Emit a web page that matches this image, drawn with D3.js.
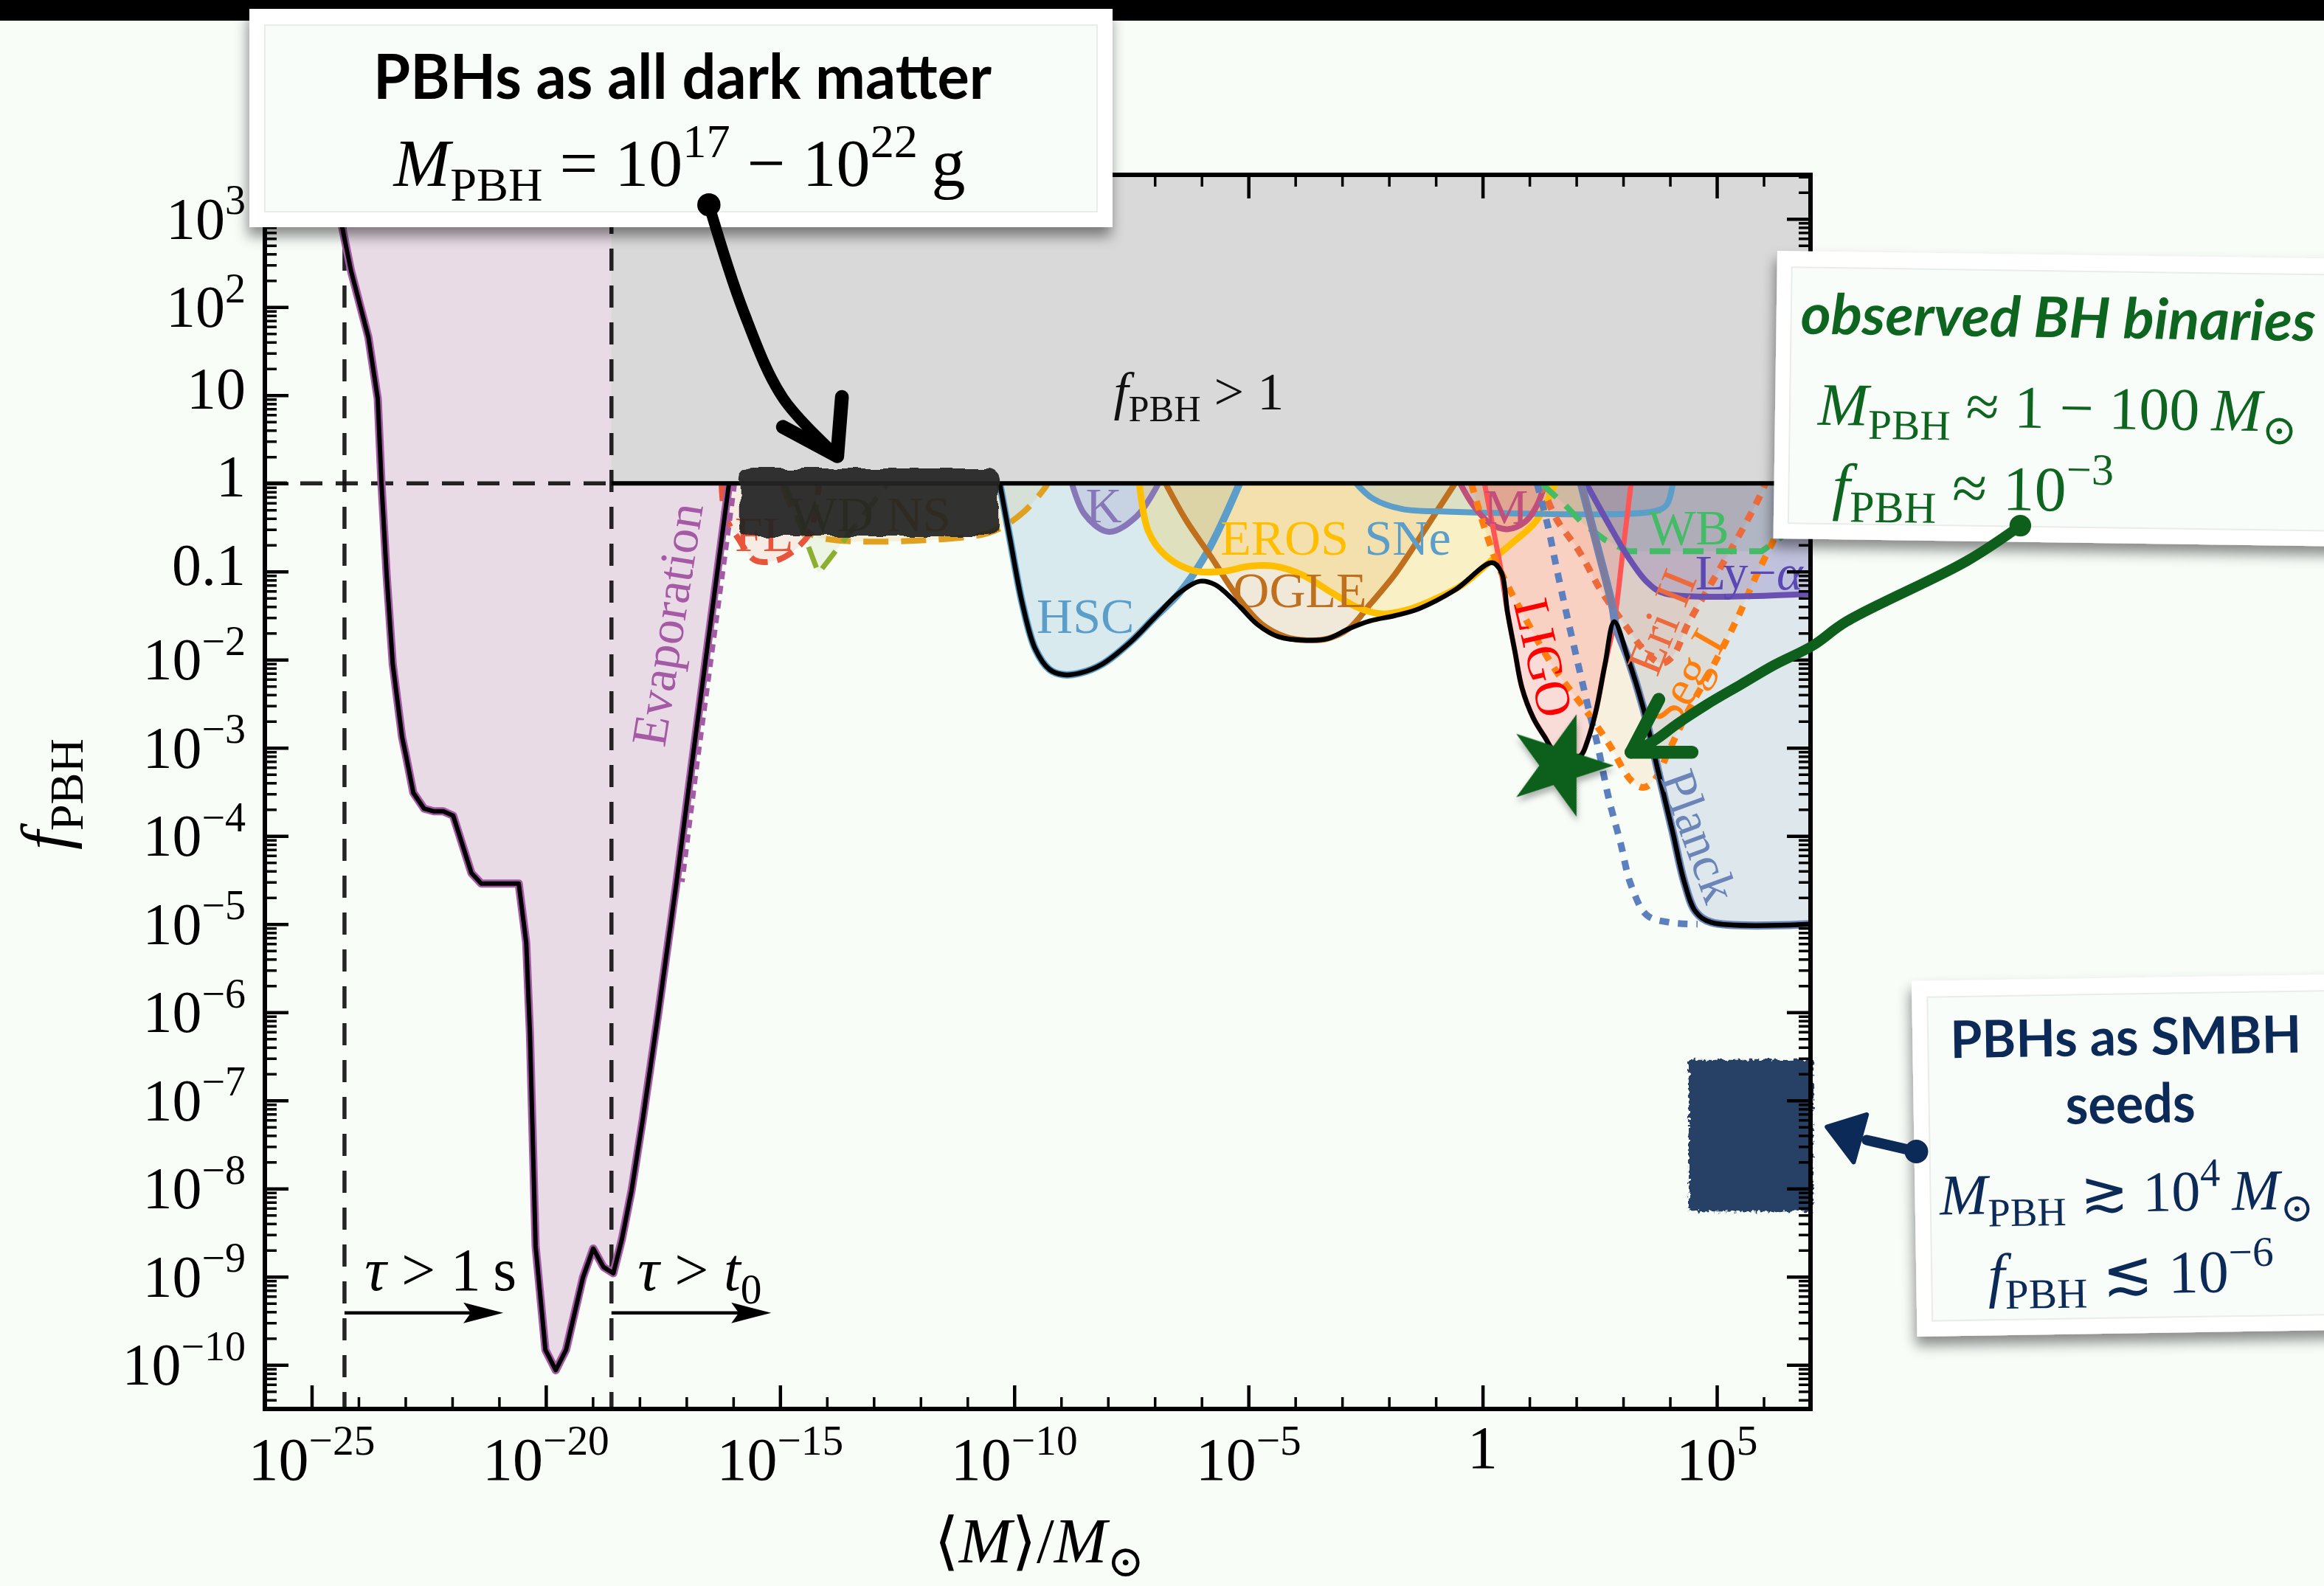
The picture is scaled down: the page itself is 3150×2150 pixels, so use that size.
<!DOCTYPE html>
<html>
<head>
<meta charset="utf-8">
<script src="https://cdn.jsdelivr.net/npm/d3@7"></script>
<style>
html,body{margin:0;padding:0;background:#f8fdf8;}
svg{display:block;}
</style>
</head>
<body>
<svg id="chart" width="3150" height="2150"></svg>
<script>
// ---------------- tick positions (log10 exponents) ----------------
const massMajorExp = [-25, -20, -15, -10, -5, 0, 5];
const massDecadeExp = d3.range(-25, 7);
const fracDecadeExp = d3.range(-10, 4);

// ---------------- constraint curves: [log10(M/Msun), log10 fPBH] ----------------
const evaporation = [[-24.45,3.5],[-24.35,2.91],[-24.16,2.41],[-23.79,1.66],[-23.59,0.96],[-23.51,0.0],[-23.40,-1.04],[-23.27,-2.05],[-23.07,-2.88],[-22.99,-3.08],[-22.83,-3.51],[-22.60,-3.69],[-22.39,-3.72],[-22.19,-3.72],[-21.98,-3.77],[-21.59,-4.42],[-21.38,-4.54],[-20.58,-4.54],[-20.42,-5.21],[-20.34,-6.25],[-20.22,-8.65],[-20.01,-9.83],[-19.79,-10.06],[-19.57,-9.83],[-19.21,-9.01],[-18.99,-8.68],[-18.77,-8.89],[-18.56,-8.96],[-18.38,-8.58],[-18.17,-8.02],[-17.93,-7.21],[-17.60,-6.01],[-17.21,-4.52],[-16.88,-3.17],[-16.09,0.0]];
const evaporationDotted = [[-15.98,0.0],[-16.78,-3.17],[-17.10,-4.52]];
const femtolensing = [[-16.25,0],[-16.17,-0.37],[-15.90,-0.62],[-15.54,-0.87],[-15.13,-0.88],[-14.77,-0.79],[-14.41,-0.60],[-14.31,-0.48],[-14.17,0]];
const whiteDwarfs = [[-14.90,0],[-14.18,-1.02],[-12.70,0]];
const neutronStars = [[-14.95,0],[-14.62,-0.42],[-14.25,-0.60],[-10.88,-0.60],[-10.34,-0.52],[-9.79,-0.32],[-9.33,-0.04],[-9.29,0]];
const hsc = [[-10.31,0],[-10.09,-0.63],[-9.82,-1.38],[-9.55,-1.88],[-9.25,-2.11],[-8.96,-2.17],[-8.58,-2.15],[-8.12,-2.05],[-7.52,-1.80],[-7.00,-1.52],[-6.47,-1.24],[-5.87,-0.77],[-5.19,0]];
const kepler = [[-8.77,0],[-8.50,-0.35],[-7.98,-0.55],[-7.38,-0.37],[-6.92,0]];
const eros = [[-7.33,0],[-7.14,-0.54],[-6.77,-0.82],[-6.17,-0.99],[-5.57,-1.00],[-4.97,-0.94],[-4.43,-0.94],[-3.84,-1.04],[-3.22,-1.24],[-2.70,-1.40],[-2.17,-1.48],[-1.65,-1.44],[-1.05,-1.32],[-0.43,-1.15],[0.24,-0.85],[0.69,-0.65],[1.14,-0.43],[1.55,0]];
const ogle = [[-6.77,0],[-6.33,-0.42],[-5.79,-0.84],[-5.27,-1.26],[-4.73,-1.59],[-4.21,-1.74],[-3.76,-1.78],[-3.30,-1.76],[-2.86,-1.65],[-2.40,-1.37],[-1.87,-1.03],[-1.35,-0.62],[-0.97,-0.31],[-0.59,0]];
const supernovae = [[-2.70,0],[-2.35,-0.17],[-1.73,-0.29],[-0.78,-0.32],[3.63,-0.32],[3.92,-0.25],[4.06,0]];
const mLensing = [[-0.48,0],[-0.20,-0.25],[0.15,-0.45],[0.53,-0.52],[0.92,-0.43],[1.16,-0.25],[1.33,0]];
const ligo = [[0.04,0],[0.22,-0.50],[0.40,-1.01],[0.53,-1.46],[0.69,-1.91],[0.84,-2.32],[1.08,-2.66],[1.33,-2.88],[1.57,-3.07],[1.88,-3.10],[2.09,-3.09],[2.24,-2.92],[2.42,-2.58],[2.61,-2.06],[2.81,-1.57],[2.99,-0.79],[3.17,0]];
const segueI = [[-0.24,0],[0.28,-0.87],[0.92,-1.54],[1.57,-2.13],[2.21,-2.58],[2.70,-2.96],[3.17,-3.37],[3.43,-3.45],[3.66,-3.37],[3.98,-3.03],[4.39,-2.58],[4.78,-2.21],[5.43,-1.54],[5.84,-1.05],[6.25,-0.60],[6.56,-0.23],[6.76,0]];
const eridanusII = [[1.25,0],[1.57,-0.40],[2.06,-0.77],[2.53,-1.22],[3.02,-1.59],[3.51,-1.93],[3.82,-2.04],[4.06,-1.96],[4.39,-1.59],[5.04,-0.99],[5.60,-0.47],[5.96,-0.10],[6.04,0]];
const accretionForecast = [[1.16,0],[1.40,-0.50],[1.57,-0.94],[1.80,-1.50],[2.06,-2.10],[2.29,-2.62],[2.45,-2.96],[2.70,-3.59],[2.94,-4.07],[3.17,-4.56],[3.51,-4.90],[3.98,-4.98],[4.59,-5.0]];
const wideBinaries = [[1.25,0],[1.73,-0.23],[2.13,-0.45],[2.61,-0.64],[3.10,-0.77],[5.96,-0.77],[6.40,-0.60],[7,-0.29]];
const lymanAlpha = [[2.21,0],[2.70,-0.47],[3.10,-0.83],[3.51,-1.12],[3.90,-1.25],[7,-1.25]];
const planckUpper = [[2.10,0],[2.45,-0.72],[2.78,-1.42]];
const planck = [[2.10,0],[2.45,-0.72],[2.78,-1.42],[2.84,-1.62],[3.10,-1.98],[3.43,-2.55],[3.74,-3.25],[4.06,-3.96],[4.31,-4.53],[4.55,-4.86],[4.88,-4.98],[7,-5.0]];
const envelope = [[-10.31,0],[-10.09,-0.63],[-9.82,-1.38],[-9.55,-1.88],[-9.25,-2.11],[-8.96,-2.17],[-8.58,-2.15],[-8.12,-2.05],[-7.52,-1.80],[-7.00,-1.52],[-6.47,-1.24],[-6.03,-1.11],[-5.71,-1.15],[-5.27,-1.35],[-4.81,-1.60],[-4.36,-1.74],[-3.76,-1.78],[-3.30,-1.76],[-2.86,-1.65],[-2.40,-1.56],[-1.87,-1.50],[-1.35,-1.42],[-0.59,-1.21],[0.20,-0.90],[0.40,-1.01],[0.53,-1.46],[0.69,-1.91],[0.84,-2.32],[1.08,-2.66],[1.33,-2.88],[1.57,-3.07],[1.88,-3.10],[2.09,-3.09],[2.24,-2.92],[2.42,-2.58],[2.61,-2.06],[2.81,-1.57],[3.10,-1.98],[3.43,-2.55],[3.74,-3.25],[4.06,-3.96],[4.31,-4.53],[4.55,-4.86],[4.88,-4.98],[7.0,-5.0]];

// ---------------- highlighted windows and reference values ----------------
const lifetimeExp = [-24.3, -18.6];          // tau = 1 s, tau = t0
const allDarkMatterWindow = {m: [-15.86, -10.34], f: [-0.60, 0.17]};
const smbhSeedWindow = {m: [4.40, 7.05], f: [-8.26, -6.54]};
const observedBinaries = [1.65, -3.20];

// ---------------- geometry ----------------
const svg = d3.select("#chart");
const W = 3150, H = 2150;
const P = {l: 359, r: 2454, t: 237, b: 1910};
const x = d3.scaleLog().domain([1e-26, 1e7]).range([P.l, P.r]);
const y = d3.scaleLog().domain([10 ** -10.5, 10 ** 3.5]).range([P.b, P.t]);
const X = e => x(10 ** e), Y = e => y(10 ** e);

const SERIF = "'Liberation Serif','Times New Roman','DejaVu Serif',serif";
const SANS = "Lato,'Noto Sans','DejaVu Sans',sans-serif";

const defs = svg.append("defs");
defs.append("clipPath").attr("id", "plotClip").append("rect")
  .attr("x", P.l).attr("y", P.t).attr("width", P.r - P.l).attr("height", P.b - P.t);

const noteShadow = defs.append("filter").attr("id", "noteShadow")
  .attr("x", "-10%").attr("y", "-10%").attr("width", "125%").attr("height", "140%");
noteShadow.append("feDropShadow").attr("dx", -2).attr("dy", 12).attr("stdDeviation", 9)
  .attr("flood-color", "#000").attr("flood-opacity", 0.45);

const softShadow = defs.append("filter").attr("id", "softShadow")
  .attr("x", "-30%").attr("y", "-30%").attr("width", "160%").attr("height", "160%");
softShadow.append("feDropShadow").attr("dx", 3).attr("dy", 6).attr("stdDeviation", 4)
  .attr("flood-color", "#000").attr("flood-opacity", 0.3);

function roughFilter(id, freq, scale) {
  const f = defs.append("filter").attr("id", id)
    .attr("x", "-10%").attr("y", "-20%").attr("width", "120%").attr("height", "140%");
  f.append("feTurbulence").attr("type", "fractalNoise").attr("baseFrequency", freq)
    .attr("numOctaves", 2).attr("seed", 4).attr("result", "noise");
  f.append("feDisplacementMap").attr("in", "SourceGraphic").attr("in2", "noise")
    .attr("scale", scale).attr("xChannelSelector", "R").attr("yChannelSelector", "G");
}
roughFilter("roughBox", 0.035, 10);
roughFilter("roughPaint", 0.18, 10);

// ---------------- helpers ----------------
const smooth = d3.line().x(d => X(d[0])).y(d => Y(d[1])).curve(d3.curveCatmullRom.alpha(0.5));
const straight = d3.line().x(d => X(d[0])).y(d => Y(d[1]));

function mathText(sel, parts, F) {
  let shift = 0;
  parts.forEach(p => {
    const target = p.sub ? 0.22 * F : p.sup ? -0.42 * F : 0;
    const t = sel.append("tspan").text(p.t)
      .attr("dy", target - shift)
      .attr("font-size", (p.sub || p.sup) ? 0.7 * F : F);
    if (p.it) t.attr("font-style", "italic");
    shift = target;
  });
  return sel;
}
function expParts(e, isY) {
  if (e === 0) return [{t: "1"}];
  if (isY && e === 1) return [{t: "10"}];
  if (isY && e === -1) return [{t: "0.1"}];
  return [{t: "10"}, {t: (e < 0 ? "\u2212" : "") + Math.abs(e), sup: true}];
}

// ---------------- page background ----------------
svg.append("rect").attr("width", W).attr("height", H).attr("fill", "#f8fdf8");
svg.append("rect").attr("width", W).attr("height", 28).attr("fill", "#000");

const plot = svg.append("g").attr("clip-path", "url(#plotClip)");

// evaporation region (filled up to the top of the frame)
plot.append("path")
  .attr("d", straight(evaporation) + `L${X(-16.09)},${Y(3.5)}L${X(evaporation[0][0])},${Y(3.5)}Z`)
  .attr("fill", "#e8dbe6");

// f_PBH > 1 region
plot.append("rect")
  .attr("x", X(lifetimeExp[1])).attr("y", Y(3.5))
  .attr("width", X(7) - X(lifetimeExp[1])).attr("height", Y(0) - Y(3.5))
  .attr("fill", "#d9d9d9");

// individual constraints
const curves = [
  {pts: neutronStars, color: "#e0a020", dash: "34 17", w: 8, fill: 0.14},
  {pts: whiteDwarfs, color: "#8bb030", dash: "30 16", w: 7, fill: 0.10, linear: true},
  {pts: femtolensing, color: "#e8553a", dash: "24 13", w: 8, fill: 0.10},
  {pts: hsc, color: "#5b9ec9", w: 10, fill: 0.20},
  {pts: kepler, color: "#8877b8", w: 8, fill: 0.20},
  {pts: ogle, color: "#c0701c", w: 8, fill: 0.14},
  {pts: eros, color: "#ffbf00", w: 9, fill: 0.20},
  {pts: supernovae, color: "#5b9ec9", w: 8, fill: 0.18},
  {pts: mLensing, color: "#c0507a", w: 8, fill: 0.22},
  {pts: ligo, color: "#ff5555", w: 7, fill: 0.20},
  {pts: segueI, color: "#ff7f0e", dash: "13 12", w: 9, fill: 0.10},
  {pts: eridanusII, color: "#ec6a3c", dash: "13 12", w: 9, fill: 0.12},
  {pts: wideBinaries, color: "#44bb66", dash: "28 17", w: 8, fill: 0.14, close: [[7, 0]], linear: true},
  {pts: lymanAlpha, color: "#6a50b0", w: 8, fill: 0.26, close: [[7, 0]]},
  {pts: planck, color: "#6b85b8", w: 11, fill: 0.18, close: [[7, 0]]},
  {pts: accretionForecast, color: "#5b7fbf", dash: "13 12", w: 9, fill: 0}
];
const gen = c => (c.linear ? straight : smooth)(c.pts);

curves.filter(c => c.fill > 0).forEach(c => {
  const tail = (c.close || []).map(p => `L${X(p[0])},${Y(p[1])}`).join("");
  plot.append("path").attr("d", gen(c) + tail + "Z")
    .attr("fill", c.color).attr("fill-opacity", c.fill);
});

// lifetime reference lines and the f = 1 dashed segment
lifetimeExp.forEach(e => {
  plot.append("line").attr("x1", X(e)).attr("x2", X(e)).attr("y1", P.t).attr("y2", P.b)
    .attr("stroke", "#111").attr("stroke-opacity", 0.92).attr("stroke-width", 5.5)
    .attr("stroke-dasharray", "30 20");
});
plot.append("line").attr("x1", P.l).attr("x2", X(lifetimeExp[1])).attr("y1", Y(0)).attr("y2", Y(0))
  .attr("stroke", "#111").attr("stroke-opacity", 0.92).attr("stroke-width", 5.5)
  .attr("stroke-dasharray", "30 18");

// constraint lines
curves.forEach(c => {
  plot.append("path").attr("d", gen(c)).attr("fill", "none")
    .attr("stroke", c.color).attr("stroke-width", c.w)
    .attr("stroke-dasharray", c.dash || null)
    .attr("stroke-linejoin", "round");
});
plot.append("path").attr("d", smooth(planckUpper)).attr("fill", "none")
  .attr("stroke", "#7f7b9a").attr("stroke-width", 7);

// evaporation boundary
plot.append("path").attr("d", straight(evaporationDotted)).attr("fill", "none")
  .attr("stroke", "#a55aa5").attr("stroke-width", 8).attr("stroke-dasharray", "11 9");
plot.append("path").attr("d", straight(evaporation)).attr("fill", "none")
  .attr("stroke", "#a55aa5").attr("stroke-width", 11).attr("stroke-linejoin", "round");
plot.append("path").attr("d", straight(evaporation)).attr("fill", "none")
  .attr("stroke", "#000").attr("stroke-width", 6).attr("stroke-linejoin", "round");

// combined bound
plot.append("path").attr("d", smooth(envelope)).attr("fill", "none")
  .attr("stroke", "#000").attr("stroke-width", 6.5).attr("stroke-linejoin", "round");
plot.append("line").attr("x1", X(lifetimeExp[1])).attr("x2", P.r).attr("y1", Y(0)).attr("y2", Y(0))
  .attr("stroke", "#000").attr("stroke-width", 6);

// region labels
const regionLabels = [
  {parts: [{t: "HSC"}], at: [-8.48, -1.70], color: "#5b9ec9"},
  {parts: [{t: "K"}], at: [-8.09, -0.44], color: "#8877b8"},
  {parts: [{t: "EROS"}], at: [-4.23, -0.81], color: "#ffbf00"},
  {parts: [{t: "SNe"}], at: [-1.60, -0.81], color: "#5b9ec9"},
  {parts: [{t: "OGLE"}], at: [-3.90, -1.40], color: "#c0701c"},
  {parts: [{t: "M"}], at: [0.50, -0.46], color: "#c0507a"},
  {parts: [{t: "WB"}], at: [4.40, -0.69], color: "#44bb66"},
  {parts: [{t: "Ly\u2212"}, {t: "\u03b1", it: true}], at: [4.54, -1.20], color: "#5a48b4", anchor: "start"},
  {parts: [{t: "FL"}], at: [-15.34, -0.77], color: "#e8553a"},
  {parts: [{t: "WD"}], at: [-13.90, -0.54], color: "#7a9a28"},
  {parts: [{t: "NS"}], at: [-12.04, -0.54], color: "#d08a10"},
  {parts: [{t: "LIGO"}], at: [1.30, -1.98], color: "#ff0000", rot: 77},
  {parts: [{t: "Eri II"}], at: [3.82, -1.57], color: "#ec6a3c", rot: -68},
  {parts: [{t: "Seg I"}], at: [4.34, -2.22], color: "#ff7f0e", rot: -60},
  {parts: [{t: "Planck"}], at: [4.62, -4.0], color: "#6b85b8", rot: 70},
  {parts: [{t: "Evaporation"}], at: [-17.41, -1.60], color: "#a55aa5", rot: -81}
];
regionLabels.forEach(L => {
  const t = plot.append("text")
    .attr("font-family", SERIF).attr("fill", L.color)
    .attr("text-anchor", L.anchor || "middle");
  if (L.rot !== undefined) {
    t.attr("transform", `translate(${X(L.at[0])},${Y(L.at[1])}) rotate(${L.rot})`)
      .attr("dominant-baseline", "central");
  } else {
    t.attr("x", X(L.at[0])).attr("y", Y(L.at[1]));
  }
  mathText(t, L.parts, 68);
});

// f_PBH > 1 label
mathText(plot.append("text").attr("font-family", SERIF).attr("text-anchor", "middle")
  .attr("x", X(-6.06)).attr("y", Y(0.84)).attr("fill", "#111"),
  [{t: "f", it: true}, {t: "PBH", sub: true}, {t: " > 1"}], 72);

// lifetime annotations
const tauRows = [
  {parts: [{t: "\u03c4", it: true}, {t: " > 1\u2009s"}], text: -23.87, from: lifetimeExp[0], to: -20.91},
  {parts: [{t: "\u03c4", it: true}, {t: " > "}, {t: "t", it: true}, {t: "0", sub: true}], text: -18.04, from: lifetimeExp[1], to: -15.19}
];
tauRows.forEach(r => {
  mathText(plot.append("text").attr("font-family", SERIF).attr("x", X(r.text)).attr("y", Y(-9.15)).attr("fill", "#000"),
    r.parts, 82);
  const yy = Y(-9.41), x1 = X(r.from), x2 = X(r.to);
  plot.append("line").attr("x1", x1).attr("x2", x2 - 30).attr("y1", yy).attr("y2", yy)
    .attr("stroke", "#000").attr("stroke-width", 4.5);
  plot.append("path").attr("d", `M${x2},${yy}L${x2 - 54},${yy - 14}L${x2 - 44},${yy}L${x2 - 54},${yy + 14}Z`)
    .attr("fill", "#000");
});

// highlighted all-dark-matter window
plot.append("rect")
  .attr("x", X(allDarkMatterWindow.m[0])).attr("y", Y(allDarkMatterWindow.f[1]))
  .attr("width", X(allDarkMatterWindow.m[1]) - X(allDarkMatterWindow.m[0]))
  .attr("height", Y(allDarkMatterWindow.f[0]) - Y(allDarkMatterWindow.f[1]))
  .attr("rx", 16).attr("fill", "#242424").attr("fill-opacity", 0.93)
  .attr("filter", "url(#roughBox)");

// observed black-hole binaries
plot.append("path")
  .attr("d", d3.symbol(d3.symbolStar, 6000)())
  .attr("transform", `translate(${X(observedBinaries[0])},${Y(observedBinaries[1])}) rotate(18)`)
  .attr("fill", "#0c5e1a").attr("filter", "url(#softShadow)");

// SMBH seed window (partly beyond the frame)
svg.append("rect")
  .attr("x", X(smbhSeedWindow.m[0])).attr("y", Y(smbhSeedWindow.f[1]))
  .attr("width", X(smbhSeedWindow.m[1]) - X(smbhSeedWindow.m[0]))
  .attr("height", Y(smbhSeedWindow.f[0]) - Y(smbhSeedWindow.f[1]))
  .attr("fill", "#1f3a5f").attr("fill-opacity", 0.96)
  .attr("filter", "url(#roughPaint)");

// ---------------- axes ----------------
const tickStyle = (g, w) => {
  g.select(".domain").remove();
  g.selectAll(".tick line").attr("stroke", "#000").attr("stroke-width", w);
};
const minorFrac = [];
d3.range(-11, 4).forEach(k => d3.range(2, 10).forEach(m => {
  const v = m * 10 ** k;
  if (v > 10 ** -10.5 && v < 10 ** 3.5) minorFrac.push(v);
}));
const massMinor = massDecadeExp.filter(e => !massMajorExp.includes(e)).map(e => 10 ** e);
const massMajor = massMajorExp.map(e => 10 ** e);
const fracMajor = fracDecadeExp.map(e => 10 ** e);

const axes = svg.append("g");
[[d3.axisBottom, P.b], [d3.axisTop, P.t]].forEach(([ax, pos]) => {
  axes.append("g").attr("transform", `translate(0,${pos})`)
    .call(ax(x).tickValues(massMajor).tickSize(-32).tickFormat("")).call(g => tickStyle(g, 4.5));
  axes.append("g").attr("transform", `translate(0,${pos})`)
    .call(ax(x).tickValues(massMinor).tickSize(-16).tickFormat("")).call(g => tickStyle(g, 3.5));
});
[[d3.axisLeft, P.l], [d3.axisRight, P.r]].forEach(([ax, pos]) => {
  axes.append("g").attr("transform", `translate(${pos},0)`)
    .call(ax(y).tickValues(fracMajor).tickSize(-32).tickFormat("")).call(g => tickStyle(g, 4.5));
  axes.append("g").attr("transform", `translate(${pos},0)`)
    .call(ax(y).tickValues(minorFrac).tickSize(-16).tickFormat("")).call(g => tickStyle(g, 3.5));
});
axes.append("rect").attr("x", P.l).attr("y", P.t).attr("width", P.r - P.l).attr("height", P.b - P.t)
  .attr("fill", "none").attr("stroke", "#000").attr("stroke-width", 6);

// tick labels
massMajorExp.forEach(e => {
  mathText(axes.append("text").attr("font-family", SERIF).attr("text-anchor", "middle")
    .attr("x", X(e)).attr("y", e === 0 ? 1990 : 2006), expParts(e, false), 82);
});
fracDecadeExp.forEach(e => {
  const plain = (e >= -1 && e <= 1);
  mathText(axes.append("text").attr("font-family", SERIF).attr("text-anchor", "end")
    .attr("x", 333).attr("y", Y(e) + (plain ? 18 : 27)), expParts(e, true), 80);
});

// axis titles
mathText(axes.append("text").attr("font-family", SERIF).attr("text-anchor", "middle")
  .attr("transform", `translate(92,${(P.t + P.b) / 2 + 3}) rotate(-90)`),
  [{t: "f", it: true}, {t: "PBH", sub: true}], 92);
mathText(axes.append("text").attr("font-family", SERIF).attr("text-anchor", "middle")
  .attr("x", (P.l + P.r) / 2 + 2).attr("y", 2118),
  [{t: "\u27e8"}, {t: "M", it: true}, {t: "\u27e9/"}, {t: "M", it: true}, {t: "\u2299", sub: true}], 86);

// ---------------- note cards ----------------
function noteCard(box, rot) {
  const g = svg.append("g").attr("transform", `rotate(${rot},${box.x},${box.y})`);
  g.append("rect").attr("x", box.x).attr("y", box.y).attr("width", box.w).attr("height", box.h)
    .attr("fill", "#fff").attr("filter", "url(#noteShadow)");
  g.append("rect").attr("x", box.x + box.inset).attr("y", box.y + 22)
    .attr("width", box.w - 2 * box.inset).attr("height", box.h - 43)
    .attr("fill", "#f9fdf9").attr("stroke", "#e9ede9").attr("stroke-width", 2);
  return g;
}

const dmCard = noteCard({x: 338, y: 12, w: 1170, h: 296, inset: 21}, 0);
dmCard.append("text").attr("font-family", SANS).attr("font-weight", 700).attr("font-size", 84)
  .attr("text-anchor", "middle").attr("x", 925).attr("y", 134)
  .attr("textLength", 838).attr("lengthAdjust", "spacingAndGlyphs").attr("fill", "#000")
  .text("PBHs as all dark matter");
mathText(dmCard.append("text").attr("font-family", SERIF).attr("text-anchor", "middle")
  .attr("x", 921).attr("y", 252).attr("fill", "#000"),
  [{t: "M", it: true}, {t: "PBH", sub: true}, {t: " = 10"}, {t: "17", sup: true}, {t: " \u2212 10"}, {t: "22", sup: true}, {t: "\u2009g"}], 92);

const GREEN = "#0d651f";
const bhCard = noteCard({x: 2409, y: 340, w: 800, h: 390, inset: 20}, 0.8);
bhCard.append("text").attr("font-family", SANS).attr("font-weight", 700).attr("font-style", "italic")
  .attr("font-size", 76).attr("x", 2442).attr("y", 452)
  .attr("textLength", 698).attr("lengthAdjust", "spacingAndGlyphs").attr("fill", GREEN)
  .text("observed BH binaries");
mathText(bhCard.append("text").attr("font-family", SERIF).attr("x", 2467).attr("y", 575).attr("fill", GREEN),
  [{t: "M", it: true}, {t: "PBH", sub: true}, {t: " \u2248 1 \u2212 100\u2009"}, {t: "M", it: true}, {t: "\u2299", sub: true}], 82);
mathText(bhCard.append("text").attr("font-family", SERIF).attr("x", 2488).attr("y", 687).attr("fill", GREEN),
  [{t: "f", it: true}, {t: "PBH", sub: true}, {t: " \u2248 10"}, {t: "\u22123", sup: true}], 86);

const NAVY = "#0b2a57";
const seedCard = noteCard({x: 2591, y: 1330, w: 620, h: 482, inset: 21}, -0.9);
seedCard.append("text").attr("font-family", SANS).attr("font-weight", 700).attr("font-size", 70)
  .attr("text-anchor", "middle").attr("x", 2880).attr("y", 1435)
  .attr("textLength", 476).attr("lengthAdjust", "spacingAndGlyphs").attr("fill", NAVY)
  .text("PBHs as SMBH");
seedCard.append("text").attr("font-family", SANS).attr("font-weight", 700).attr("font-size", 74)
  .attr("text-anchor", "middle").attr("x", 2885).attr("y", 1527)
  .attr("textLength", 176).attr("lengthAdjust", "spacingAndGlyphs").attr("fill", NAVY)
  .text("seeds");
mathText(seedCard.append("text").attr("font-family", SERIF).attr("text-anchor", "middle")
  .attr("x", 2878).attr("y", 1647).attr("fill", NAVY),
  [{t: "M", it: true}, {t: "PBH", sub: true}, {t: " \u2273 10"}, {t: "4", sup: true}, {t: "\u2009"}, {t: "M", it: true}, {t: "\u2299", sub: true}], 78);
mathText(seedCard.append("text").attr("font-family", SERIF).attr("text-anchor", "middle")
  .attr("x", 2882).attr("y", 1758).attr("fill", NAVY),
  [{t: "f", it: true}, {t: "PBH", sub: true}, {t: " \u2272 10"}, {t: "\u22126", sup: true}], 82);

// ---------------- hand-drawn arrows (in data coordinates) ----------------
const P2 = d => [X(d[0]), Y(d[1])];
function handArrow(shaft, wings, color, width) {
  const g = svg.append("g");
  g.append("path").attr("d", d3.line().curve(d3.curveCatmullRom)(shaft.map(P2)))
    .attr("fill", "none").attr("stroke", color).attr("stroke-width", width)
    .attr("stroke-linecap", "round").attr("stroke-linejoin", "round");
  const s = P2(shaft[0]);
  g.append("circle").attr("cx", s[0]).attr("cy", s[1]).attr("r", width * 1.05).attr("fill", color);
  const tip = P2(shaft[shaft.length - 1]);
  wings.forEach(w => {
    const p = P2(w);
    g.append("path").attr("d", `M${p[0]},${p[1]}L${tip[0]},${tip[1]}`)
      .attr("stroke", color).attr("stroke-width", width * 1.25).attr("stroke-linecap", "round");
  });
  return g;
}
handArrow([[-16.52, 3.16], [-15.78, 1.95], [-14.94, 0.97], [-13.78, 0.31]],
  [[-14.94, 0.64], [-13.68, 0.98]], "#000", 15);
handArrow([[11.48, -0.48], [10.34, -0.88], [7.76, -1.57], [7.05, -1.84], [6.23, -2.06], [5.52, -2.28], [4.78, -2.51], [4.15, -2.73], [3.66, -2.92], [3.17, -3.05]],
  [[3.76, -2.45], [4.47, -3.05]], "#0f5f1c", 14);

// SMBH arrow with a filled head
const navyShaft = [[9.26, -7.58], [8.20, -7.45]];
const navyHead = [[8.20, -7.16], [7.35, -7.30], [7.92, -7.70]];
svg.append("path").attr("d", d3.line()(navyShaft.map(P2)))
  .attr("stroke", NAVY).attr("stroke-width", 14).attr("stroke-linecap", "round");
svg.append("circle").attr("cx", X(navyShaft[0][0])).attr("cy", Y(navyShaft[0][1])).attr("r", 16).attr("fill", NAVY);
svg.append("path").attr("d", d3.line()(navyHead.map(P2)) + "Z").attr("fill", NAVY)
  .attr("stroke", NAVY).attr("stroke-width", 6).attr("stroke-linejoin", "round");
</script>
</body>
</html>
